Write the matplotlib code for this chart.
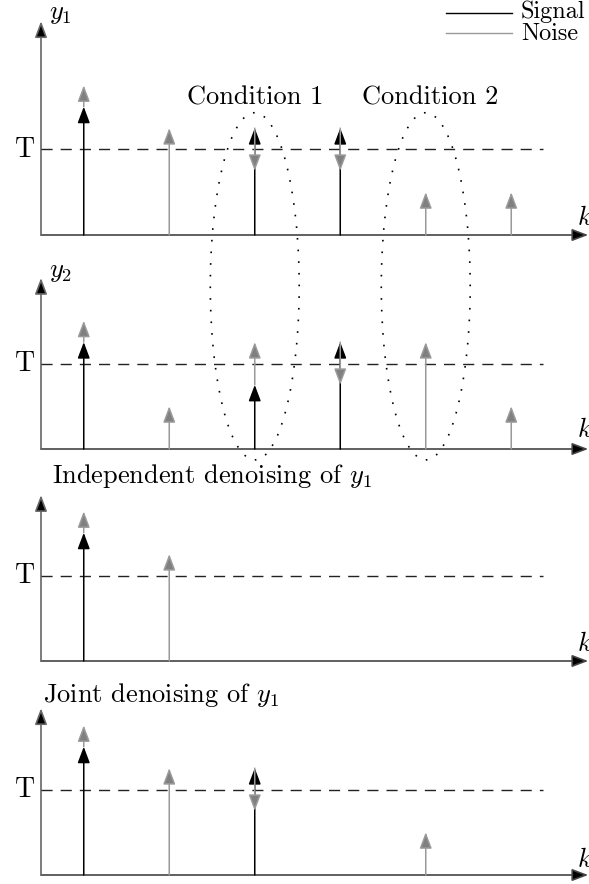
import matplotlib
matplotlib.use("Agg")
import matplotlib.pyplot as plt
from matplotlib.patches import FancyArrowPatch, Ellipse
from matplotlib.lines import Line2D

plt.rcParams["font.family"] = "cmr10"
plt.rcParams["mathtext.fontset"] = "cm"
plt.rcParams["axes.unicode_minus"] = False

# sample positions and threshold
k = [0.5, 1.5, 2.5, 3.5, 4.5, 5.5]
threshold = 1.0

# signal / noise amplitude at each k (noise is stacked on top of the signal)
y1_signal = [1.5, 0, 1.25, 1.25, 0, 0]
y1_noise = [0.25, 1.25, -0.5, -0.5, 0.5, 0.5]
y2_signal = [1.25, 0, 0.75, 1.25, 0, 0]
y2_noise = [0.25, 0.5, 0.5, -0.5, 1.25, 0.5]
indep_signal = [1.5, 0, 0, 0, 0, 0]
indep_noise = [0.25, 1.25, 0, 0, 0, 0]
joint_signal = [1.5, 0, 1.25, 0, 0, 0]
joint_noise = [0.25, 1.25, -0.5, 0, 0.5, 0]

panel_labels = ["$y_1$", "$y_2$", "Independent denoising of $y_1$", "Joint denoising of $y_1$"]
condition_labels = ["Condition 1", "Condition 2"]
condition_k = [2.5, 4.5]

W, H = 589, 884
PX = 85.5  # pixels per unit
FS = 19

fig = plt.figure(figsize=(W / 100, H / 100), dpi=100)

baselines = [235, 449, 661, 875]
tops = [2.5, 2.0, 1.94, 1.95]
x_end = 6.4
HEAD = "-|>,head_length=9.8,head_width=3.7"


def arrow(ax, x, ya, yb, line, face, lw=1.0, z=2):
    ax.add_patch(FancyArrowPatch(
        (x, ya), (x, yb), arrowstyle=HEAD,
        mutation_scale=1, shrinkA=0, shrinkB=0,
        edgecolor=line, facecolor=face, lw=lw, zorder=z, clip_on=False,
    ))


axes = []
for base, top in zip(baselines, tops):
    ax = fig.add_axes([41 / W, 1 - base / H, x_end * PX / W, top * PX / H])
    ax.set_xlim(0, x_end)
    ax.set_ylim(0, top)
    ax.axis("off")
    # axes with arrow heads
    arrow(ax, 0, 0, top, "#666666", "k", lw=1.2)
    ax.add_patch(FancyArrowPatch(
        (0, 0), (x_end, 0), arrowstyle=HEAD,
        mutation_scale=1, shrinkA=0, shrinkB=0,
        edgecolor="#444444", facecolor="k", lw=1.2, clip_on=False,
    ))
    ax.plot([0, 5.87], [threshold, threshold], color="#222222", lw=1.0,
            ls=(0, (8, 5.8)), clip_on=False)
    ax.text(-0.19, threshold, "T", fontsize=FS + 1, ha="center", va="center")
    axes.append(ax)

series = [(y1_signal, y1_noise), (y2_signal, y2_noise),
          (indep_signal, indep_noise), (joint_signal, joint_noise)]
for ax, (sig, noise) in zip(axes, series):
    for kk, s, n in zip(k, sig, noise):
        if s:
            arrow(ax, kk, 0, s, "k", "k", lw=1.1, z=3)
        if n:
            arrow(ax, kk, s, s + n, "#9a9a9a", "#808080", lw=1.1, z=4)

# axis labels
axes[0].text(0.094, 2.58, panel_labels[0], fontsize=FS, ha="left", va="center")
axes[1].text(0.094, 2.07, panel_labels[1], fontsize=FS, ha="left", va="center")
axes[2].text(0.13, 2.16, panel_labels[2], fontsize=FS, ha="left", va="center")
axes[3].text(0.02, 2.1, panel_labels[3], fontsize=FS, ha="left", va="center")
for ax, yk in zip(axes, [0.2, 0.22, 0.2, 0.18]):
    ax.text(6.27, yk, "$k$", fontsize=FS, ha="left", va="center")

# dotted ellipses grouping the two panels
for ck, lab in zip(condition_k, condition_labels):
    axes[0].add_patch(Ellipse((ck, -0.6), 1.04, 4.06, fill=False, ec="k",
                              lw=1.2, ls=(0, (1, 6)), clip_on=False))
    axes[0].text(ck + (0.05 if ck > 3 else 0), 1.61, lab, fontsize=FS,
                 ha="center", va="center")

# legend
fig.add_artist(Line2D([446 / W, 512 / W], [1 - 13 / H] * 2, color="k", lw=1.0))
fig.add_artist(Line2D([446 / W, 512 / W], [1 - 33 / H] * 2, color="#9a9a9a", lw=1.0))
fig.text(521 / W, 1 - 18 / H, "Signal", fontsize=17.5, ha="left", va="baseline")
fig.text(521 / W, 1 - 40 / H, "Noise", fontsize=17.5, ha="left", va="baseline")

fig.savefig("out.png", dpi=100)
